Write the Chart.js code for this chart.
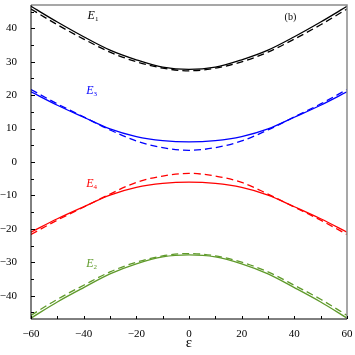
<!DOCTYPE html>
<html>
<head>
<meta charset="utf-8">
<script src="https://cdn.jsdelivr.net/npm/chart.js@4.4.0/dist/chart.umd.min.js"></script>
<style>
  html, body { margin: 0; padding: 0; background: #fff; }
</style>
</head>
<body>
<canvas id="chart" width="355" height="355"></canvas>
<script>
// values, every 10 units of epsilon
const eps = [-60, -50, -40, -30, -20, -10, 0, 10, 20, 30, 40, 50, 60];

const e1Solid  = [46.6, 41.9, 37.5, 33.5, 30.6, 28.4, 27.7, 28.4, 30.6, 33.5, 37.5, 41.9, 46.6];
const e1Dashed = [45.8, 41.1, 36.8, 32.9, 30.0, 28.1, 27.3, 28.1, 30.0, 32.9, 36.8, 41.1, 45.8];

const e3Solid  = [21.0, 17.0, 13.4, 9.9, 7.6, 6.4, 6.0, 6.4, 7.6, 9.9, 13.4, 17.0, 21.0];
const e3Dashed = [21.7, 17.4, 13.5, 9.6, 6.3, 4.3, 3.5, 4.3, 6.3, 9.6, 13.5, 17.4, 21.7];

const e4Solid  = [-21.0, -17.0, -13.4, -9.9, -7.6, -6.4, -6.0, -6.4, -7.6, -9.9, -13.4, -17.0, -21.0];
const e4Dashed = [-21.7, -17.4, -13.5, -9.6, -6.1, -4.2, -3.4, -4.2, -6.1, -9.6, -13.5, -17.4, -21.7];

const e2Solid  = [-46.7, -41.9, -37.6, -33.5, -30.5, -28.4, -27.8, -28.4, -30.5, -33.5, -37.6, -41.9, -46.7];
const e2Dashed = [-45.9, -41.1, -36.9, -32.9, -30.0, -28.1, -27.4, -28.1, -30.0, -32.9, -36.9, -41.1, -45.9];

const curveLabels = [
    { sub: "1", x: -37, y: 43.8, color: "#000000" },
    { sub: "3", x: -37.5, y: 21.3, color: "#0000ff" },
    { sub: "4", x: -37.5, y: -6.6, color: "#ff0000" },
    { sub: "2", x: -37.5, y: -30.6, color: "#5f9a2a" }
];

const serif = '"Liberation Serif", "DejaVu Serif", serif';

function series(values, color, dashed) {
    return {
        data: eps.map((x, i) => ({ x: x, y: values[i] })),
        borderColor: color,
        borderWidth: 1.3,
        borderDash: dashed ? [7, 4] : [],
        pointRadius: 0,
        cubicInterpolationMode: "monotone",
        fill: false
    };
}

function fmt(v) {
    return v < 0 ? "\u2212" + Math.abs(v) : String(v);
}

const framePlugin = {
    id: "frame",
    afterDraw(chart) {
        const ctx = chart.ctx;
        const a = chart.chartArea;
        const xs = chart.scales.x;
        const ys = chart.scales.y;
        ctx.save();
        // top and right border in grey
        ctx.strokeStyle = "#8a8a8a";
        ctx.lineWidth = 1.5;
        ctx.beginPath();
        ctx.moveTo(a.left, a.top);
        ctx.lineTo(a.right, a.top);
        ctx.lineTo(a.right, a.bottom);
        ctx.stroke();
        // left and bottom axes in black
        ctx.strokeStyle = "#000";
        ctx.lineWidth = 1;
        ctx.beginPath();
        ctx.moveTo(a.left, a.top);
        ctx.lineTo(a.left, a.bottom);
        ctx.lineTo(a.right, a.bottom);
        ctx.stroke();
        // inward ticks
        ctx.beginPath();
        xs.ticks.forEach(t => {
            const px = Math.round(xs.getPixelForValue(t.value)) + 0.5;
            ctx.moveTo(px, a.bottom);
            ctx.lineTo(px, a.bottom - 3);
        });
        ys.ticks.forEach(t => {
            const py = Math.round(ys.getPixelForValue(t.value)) + 0.5;
            const len = t.value % 10 === 0 ? 4 : 3;
            ctx.moveTo(a.left, py);
            ctx.lineTo(a.left + len, py);
        });
        ctx.stroke();
        // curve names
        curveLabels.forEach(l => {
            const px = xs.getPixelForValue(l.x);
            const py = ys.getPixelForValue(l.y);
            ctx.fillStyle = l.color;
            ctx.textBaseline = "middle";
            ctx.textAlign = "left";
            ctx.font = "italic 12px " + serif;
            ctx.fillText("E", px - 4, py);
            const w = ctx.measureText("E").width;
            ctx.font = "7px " + serif;
            ctx.fillText(l.sub, px - 4 + w, py + 3);
        });
        ctx.fillStyle = "#000";
        ctx.font = "10px " + serif;
        ctx.textAlign = "center";
        ctx.fillText("(b)", xs.getPixelForValue(38.5), ys.getPixelForValue(43.3));
        ctx.restore();
    }
};

new Chart(document.getElementById("chart").getContext("2d"), {
    type: "line",
    data: {
        datasets: [
            series(e1Solid, "#000000", false),
            series(e1Dashed, "#000000", true),
            series(e3Solid, "#0000ff", false),
            series(e3Dashed, "#0000ff", true),
            series(e4Solid, "#ff0000", false),
            series(e4Dashed, "#ff0000", true),
            series(e2Solid, "#5f9a2a", false),
            series(e2Dashed, "#5f9a2a", true)
        ]
    },
    options: {
        responsive: false,
        animation: false,
        devicePixelRatio: 1,
        layout: { padding: { top: 5, right: 8, left: 0, bottom: 0 } },
        plugins: {
            legend: { display: false },
            tooltip: { enabled: false }
        },
        scales: {
            x: {
                type: "linear",
                min: -60,
                max: 60,
                grid: { display: false },
                border: { display: false },
                ticks: {
                    stepSize: 10,
                    includeBounds: false,
                    autoSkip: false,
                    maxRotation: 0,
                    padding: 1,
                    color: "#000",
                    font: { family: serif, size: 11 },
                    callback: v => (v % 20 === 0 ? fmt(v) : "")
                },
                title: {
                    display: true,
                    text: "\u03b5",
                    color: "#000",
                    font: { family: serif, size: 15 },
                    padding: { top: 0, bottom: 3 }
                },
                afterFit: s => {
                    s.height = 36;
                    s.paddingLeft = 0;
                    s.paddingRight = 0;
                }
            },
            y: {
                type: "linear",
                min: -47,
                max: 47,
                grid: { display: false },
                border: { display: false },
                ticks: {
                    stepSize: 5,
                    includeBounds: false,
                    autoSkip: false,
                    padding: 6,
                    color: "#000",
                    font: { family: serif, size: 11 },
                    callback: v => (v % 10 === 0 ? fmt(v) : "")
                },
                afterFit: s => {
                    s.width = 31;
                    s.paddingTop = 0;
                    s.paddingBottom = 0;
                }
            }
        }
    },
    plugins: [framePlugin]
});
</script>
</body>
</html>
